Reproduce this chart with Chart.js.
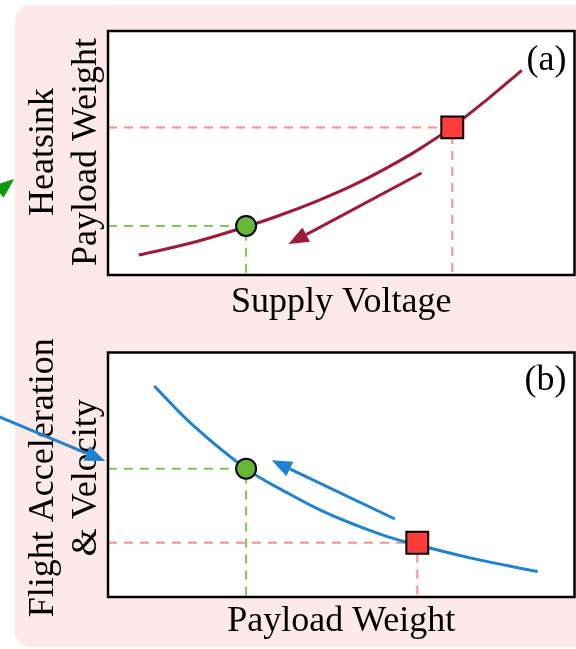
<!DOCTYPE html>
<html>
<head>
<meta charset="utf-8">
<script src="https://cdn.jsdelivr.net/npm/chart.js@4.4.1/dist/chart.umd.min.js"></script>
<style>
  body { margin: 0; background: #fff; width: 576px; height: 649px; overflow: hidden; position: relative; }
  #bg { position: absolute; left: 15px; top: 5px; width: 640px; height: 642px; background: #fde8ea; border-radius: 15px; }
  canvas { position: absolute; left: 0; }
  #chartA { top: 0; }
  #chartB { top: 325px; }
</style>
</head>
<body>
<div id="bg"></div>
<canvas id="chartA" width="576" height="325"></canvas>
<canvas id="chartB" width="576" height="324"></canvas>
<script>
// (a) heatsink / payload weight vs supply voltage (axes are 0-100 of the box)
var voltage = [6.6, 18.0, 29.6, 37.0, 44.4, 51.9, 59.1, 66.9, 73.7, 81.2, 88.7];
var heatsinkWeight = [8.2, 13.2, 19.8, 24.6, 30.0, 36.2, 43.2, 51.8, 60.6, 71.8, 83.9];
var lowPointA = [29.6, 20.1];
var highPointA = [73.8, 60.5];
var arrowA = [67.2, 41.8, 38.7, 12.7];
var sideArrowA = [-33.0, 19.6, -20.1, 39.3];

// (b) flight acceleration & velocity vs payload weight
var payload = [9.9, 18.0, 29.6, 39.0, 46.1, 53.4, 60.4, 66.2, 77.6, 92.1];
var flight = [86.3, 70.6, 52.5, 42.0, 35.0, 29.2, 24.4, 21.4, 16.0, 10.4];
var lowPointB = [29.6, 52.5];
var highPointB = [66.3, 22.2];
var arrowB = [61.5, 31.9, 35.1, 55.9];
var sideArrowB = [-27.4, 76.9, -0.6, 55.6];

var serif = "'Liberation Serif', 'Times New Roman', serif";
var darkRed = '#a01a36', blue = '#1f82d2';
var guideRed = '#ff8c8c', guideGreen = '#80c95a';
var markerRed = '#ff3c3c', markerGreen = '#63b934', sideGreen = '#0c990c';

function pts(xs, ys) {
  return xs.map(function (x, i) { return {x: x, y: ys[i]}; });
}

function drawArrow(ctx, x0, y0, x1, y1, color) {
  var a = Math.atan2(y1 - y0, x1 - x0);
  var len = 20, half = 8;
  var bx = x1 - len * Math.cos(a), by = y1 - len * Math.sin(a);
  ctx.save();
  ctx.strokeStyle = color;
  ctx.fillStyle = color;
  ctx.lineWidth = 3;
  ctx.beginPath();
  ctx.moveTo(x0, y0);
  ctx.lineTo(bx, by);
  ctx.stroke();
  ctx.beginPath();
  ctx.moveTo(x1, y1);
  ctx.lineTo(bx + half * Math.sin(a), by - half * Math.cos(a));
  ctx.lineTo(bx - half * Math.sin(a), by + half * Math.cos(a));
  ctx.closePath();
  ctx.fill();
  ctx.restore();
}

// white plot box, black frame, y labels, panel tag and arrows
var panelDecor = {
  id: 'panelDecor',
  beforeDraw: function (chart) {
    var a = chart.chartArea, ctx = chart.ctx;
    ctx.save();
    ctx.fillStyle = '#fff';
    ctx.fillRect(a.left, a.top, a.right - a.left, a.bottom - a.top);
    ctx.restore();
  },
  afterDraw: function (chart, args, opts) {
    var a = chart.chartArea, ctx = chart.ctx;
    var sx = chart.scales.x, sy = chart.scales.y;
    ctx.save();
    ctx.strokeStyle = '#000';
    ctx.lineWidth = 2.5;
    ctx.strokeRect(a.left, a.top, a.right - a.left, a.bottom - a.top);

    ctx.fillStyle = '#000';
    ctx.font = '36px ' + serif;
    ctx.textAlign = 'right';
    ctx.textBaseline = 'alphabetic';
    ctx.fillText(opts.tag, a.right - 8, a.top + opts.tagDrop);

    var cy = (a.top + a.bottom) / 2 + opts.yShift;
    opts.yTitle.forEach(function (line, i) {
      ctx.save();
      ctx.translate(53 + i * 43, cy);
      ctx.rotate(-Math.PI / 2);
      ctx.textAlign = 'center';
      ctx.fillText(line, 0, 0);
      ctx.restore();
    });
    ctx.restore();

    opts.arrows.forEach(function (ar) {
      var v = ar.v;
      drawArrow(ctx, sx.getPixelForValue(v[0]), sy.getPixelForValue(v[1]),
        sx.getPixelForValue(v[2]), sy.getPixelForValue(v[3]), ar.color);
    });
  }
};

function makePanel(id, cfg) {
  return new Chart(document.getElementById(id), {
    type: 'line',
    data: {
      datasets: [
        {data: [{x: cfg.low[0], y: cfg.low[1]}], showLine: false, pointStyle: 'circle', pointRadius: 10,
          pointBackgroundColor: markerGreen, pointBorderColor: '#000', pointBorderWidth: 2, order: 0},
        {data: [{x: cfg.high[0], y: cfg.high[1]}], showLine: false, pointStyle: 'rect', pointRadius: 15.5,
          pointBackgroundColor: markerRed, pointBorderColor: '#000', pointBorderWidth: 2, order: 0},
        {data: pts(cfg.xs, cfg.ys), borderColor: cfg.color, borderWidth: 3, pointRadius: 0,
          tension: 0.4, order: 1},
        {data: [{x: 0, y: cfg.high[1]}, {x: cfg.high[0], y: cfg.high[1]}, {x: cfg.high[0], y: 0}],
          borderColor: guideRed, borderWidth: 2, borderDash: [9, 7], pointRadius: 0, tension: 0, order: 2},
        {data: [{x: 0, y: cfg.low[1]}, {x: cfg.low[0], y: cfg.low[1]}, {x: cfg.low[0], y: 0}],
          borderColor: guideGreen, borderWidth: 2, borderDash: [9, 7], pointRadius: 0, tension: 0, order: 2}
      ]
    },
    options: {
      responsive: false,
      animation: false,
      events: [],
      layout: {autoPadding: false, padding: {top: cfg.padTop, right: 1.5, left: 0, bottom: 0}},
      plugins: {
        legend: {display: false},
        tooltip: {enabled: false},
        panelDecor: {tag: cfg.tag, tagDrop: cfg.tagDrop, yTitle: cfg.yTitle, yShift: cfg.yShift, arrows: cfg.arrows}
      },
      scales: {
        x: {
          type: 'linear', min: 0, max: 100,
          grid: {display: false}, border: {display: false}, ticks: {display: false},
          title: {display: true, text: cfg.xTitle, color: '#000',
            font: {family: serif, size: 36, lineHeight: 1.2}, padding: {top: 0, bottom: cfg.titlePad}},
          afterFit: function (s) { s.height = cfg.xHeight; }
        },
        y: {
          type: 'linear', min: 0, max: 100,
          grid: {display: false}, border: {display: false}, ticks: {display: false},
          afterFit: function (s) { s.width = 108; }
        }
      }
    },
    plugins: [panelDecor]
  });
}

makePanel('chartA', {
  xs: voltage, ys: heatsinkWeight, low: lowPointA, high: highPointA, color: darkRed,
  xTitle: 'Supply Voltage', yTitle: ['Heatsink', 'Payload Weight'], tag: '(a)', tagDrop: 39,
  padTop: 31, xHeight: 50, titlePad: 1, yShift: -1,
  arrows: [{v: arrowA, color: darkRed}, {v: sideArrowA, color: sideGreen}]
});

makePanel('chartB', {
  xs: payload, ys: flight, low: lowPointB, high: highPointB, color: blue,
  xTitle: 'Payload Weight', yTitle: ['Flight Acceleration', '& Velocity'], tag: '(b)', tagDrop: 37,
  padTop: 27.5, xHeight: 52, titlePad: 6, yShift: 3,
  arrows: [{v: arrowB, color: blue}, {v: sideArrowB, color: blue}]
});
</script>
</body>
</html>
